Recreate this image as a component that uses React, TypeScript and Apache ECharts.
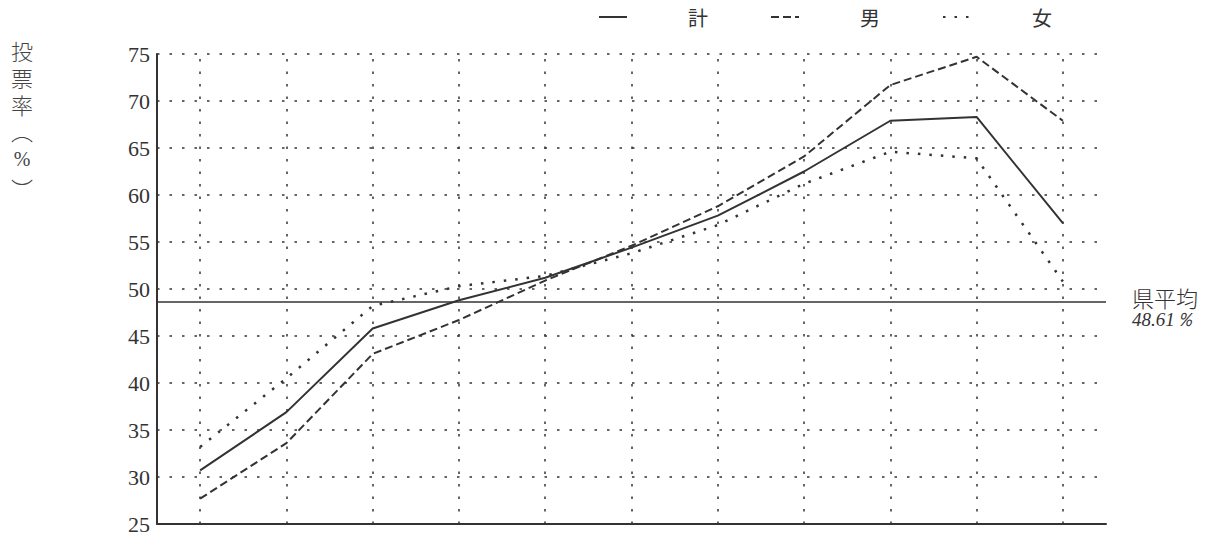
import React, { useEffect, useRef } from "react";
import * as echarts from "echarts";

const categories = ["20～24歳", "25～29歳", "30～34歳", "35～39歳", "40～44歳", "45～49歳", "50～54歳", "55～59歳", "60～64歳", "65～69歳", "70歳以上"];
const totalRate = [30.7, 36.9, 45.8, 48.8, 51.2, 54.4, 57.8, 62.5, 67.9, 68.3, 57.0];
const maleRate = [27.7, 33.6, 43.1, 46.7, 50.9, 54.6, 58.8, 64.1, 71.7, 74.7, 67.9];
const femaleRate = [33.2, 40.5, 48.2, 50.3, 51.4, 53.8, 56.8, 61.2, 64.6, 63.9, 50.8];
const prefAverage = 48.61;
const yTicks = { min: 25, max: 75, step: 5 };

const INK = "#333";
const CJK = "'Noto Sans CJK JP', 'Noto Sans', sans-serif";
const SERIF = "'Liberation Serif', 'DejaVu Serif', serif";

export default function App() {
  const ref = useRef<HTMLDivElement>(null);
  useEffect(() => {
    if (!ref.current) return;
    const chart = echarts.init(ref.current, null, { renderer: "svg" });
    const nameFont = `300 22px ${CJK}`;
    chart.setOption({
      animation: false,
      backgroundColor: "#fff",
      grid: { left: 157, right: 113, top: 54, bottom: 13 },
      legend: {
        top: 7,
        left: 598,
        padding: 0,
        itemWidth: 28,
        itemHeight: 14,
        itemGap: 62,
        itemStyle: { opacity: 0 },
        textStyle: { fontFamily: CJK, fontSize: 20, color: INK, padding: [0, 0, 0, 56] },
        data: ["計", "男", "女"],
      },
      graphic: [
        {
          type: "text",
          left: 11,
          top: 36,
          style: { text: "投\n票\n率", font: nameFont, fill: "#444", lineHeight: 27 },
        },
        {
          type: "text",
          x: 22,
          y: 130,
          style: { text: "︵", font: nameFont, fill: "#444", align: "center", verticalAlign: "middle" },
        },
        {
          type: "text",
          x: 22,
          y: 159,
          style: { text: "%", font: `300 20px ${SERIF}`, fill: "#444", align: "center", verticalAlign: "middle" },
        },
        {
          type: "text",
          x: 22,
          y: 188,
          style: { text: "︶", font: nameFont, fill: "#444", align: "center", verticalAlign: "middle" },
        },
      ],
      xAxis: {
        type: "category",
        data: categories,
        boundaryGap: true,
        axisLine: { show: true, lineStyle: { color: INK, width: 2 } },
        axisTick: { show: false },
        axisLabel: { show: false },
        splitLine: { show: false },
      },
      yAxis: {
        type: "value",
        min: yTicks.min,
        max: yTicks.max,
        interval: yTicks.step,
        axisLine: { show: true, lineStyle: { color: INK, width: 2 } },
        axisTick: { show: false },
        axisLabel: { fontFamily: SERIF, fontSize: 22, color: INK, margin: 7 },
        splitLine: { show: true, lineStyle: { color: INK, width: 1.5, type: [2.5, 10] } },
      },
      series: [
        {
          name: "計",
          type: "line",
          data: totalRate,
          symbol: "none",
          lineStyle: { color: INK, width: 2, type: "solid" },
          itemStyle: { color: INK },
          z: 5,
          markLine: {
            silent: true,
            symbol: "none",
            data: [
              ...categories.map((c) => ({
                xAxis: c,
                lineStyle: { color: INK, width: 1.5, type: [2.5, 10] },
                label: { show: false },
              })),
              {
                yAxis: prefAverage,
                lineStyle: { color: INK, width: 1.5, type: "solid" },
                label: {
                  show: true,
                  position: "end",
                  distance: 26,
                  padding: [10, 0, 0, 0],
                  formatter: `{a|県平均}\n{b|${prefAverage}％}`,
                  rich: {
                    a: { fontFamily: CJK, fontSize: 22, fontWeight: 300, color: INK, lineHeight: 24 },
                    b: { fontFamily: SERIF, fontSize: 19, fontStyle: "italic", color: INK, lineHeight: 20 },
                  },
                },
              },
            ],
          },
        },
        {
          name: "男",
          type: "line",
          data: maleRate,
          symbol: "none",
          lineStyle: { color: INK, width: 2, type: [8, 4] },
          itemStyle: { color: INK },
          z: 4,
        },
        {
          name: "女",
          type: "line",
          data: femaleRate,
          symbol: "none",
          lineStyle: { color: INK, width: 2.5, type: [2.5, 9] },
          itemStyle: { color: INK },
          z: 3,
        },
      ],
    });
    return () => chart.dispose();
  }, []);
  return <div ref={ref} style={{ position: "fixed", left: 0, top: 0, width: 1219, height: 537 }} />;
}
